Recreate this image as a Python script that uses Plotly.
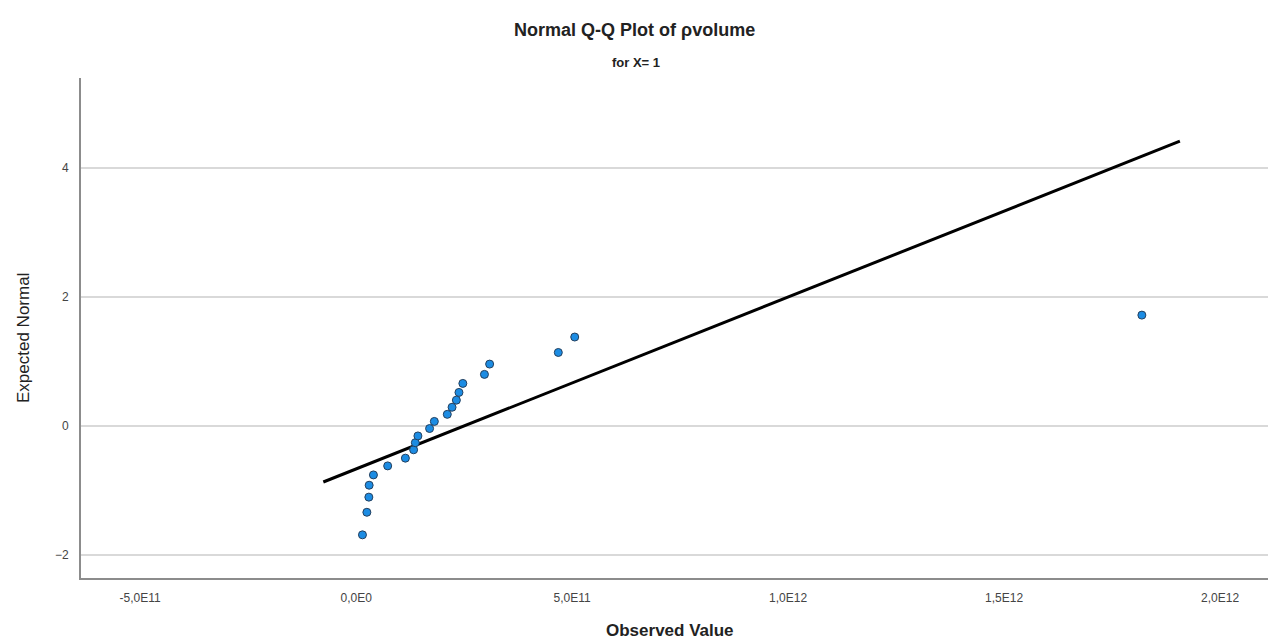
import plotly.graph_objects as go

observed = [0.0146, 0.0248, 0.0294, 0.0301, 0.040, 0.073, 0.114, 0.133, 0.137, 0.143,
            0.170, 0.181, 0.211, 0.222, 0.232, 0.238, 0.247, 0.297, 0.309, 0.468,
            0.506, 1.819]
expected = [-1.69, -1.34, -1.105, -0.92, -0.76, -0.62, -0.50, -0.37, -0.26, -0.155,
            -0.04, 0.07, 0.18, 0.29, 0.40, 0.52, 0.66, 0.80, 0.96, 1.14,
            1.38, 1.72]
# reference line endpoints
line_x = [-0.076, 1.907]
line_y = [-0.87, 4.42]

x_tickvals = [-0.5, 0.0, 0.5, 1.0, 1.5, 2.0]
x_ticktext = ["-5,0E11", "0,0E0", "5,0E11", "1,0E12", "1,5E12", "2,0E12"]
y_tickvals = [-2, 0, 2, 4]

sc = 1e12
FONT = "Liberation Sans, Arial, sans-serif"

W, H = 1268, 644
ML, MR, MT, MB = 81, 0, 78, 66
plot_w = W - ML - MR
plot_h = H - MT - MB


def px_to_paper(px, py):
    return (px - ML) / plot_w, (H - MB - py) / plot_h


fig = go.Figure()
fig.add_trace(go.Scatter(
    x=[v * sc for v in line_x], y=line_y, mode="lines",
    line=dict(color="black", width=3), hoverinfo="skip", showlegend=False))
fig.add_trace(go.Scatter(
    x=[v * sc for v in observed], y=expected, mode="markers",
    marker=dict(size=8, color="#1c8ce3", line=dict(color="#24405e", width=1)),
    showlegend=False))

tx, ty = px_to_paper(634, 30)
sx, sy = px_to_paper(636, 63)
ax_x, ax_y = px_to_paper(670, 630)
ay_x, ay_y = px_to_paper(23, 338)

fig.update_layout(
    width=W, height=H,
    margin=dict(l=ML, r=MR, t=MT, b=MB),
    plot_bgcolor="white", paper_bgcolor="white",
    font=dict(family=FONT, color="#333333"),
    annotations=[
        dict(text="<b>Normal Q-Q Plot of ρvolume</b>", x=tx, y=ty, xref="paper", yref="paper",
             showarrow=False, xanchor="center", yanchor="middle",
             font=dict(size=18, color="#222222", family=FONT)),
        dict(text="<b>for X= 1</b>", x=sx, y=sy, xref="paper", yref="paper",
             showarrow=False, xanchor="center", yanchor="middle",
             font=dict(size=13, color="#222222", family=FONT)),
        dict(text="<b>Observed Value</b>", x=ax_x, y=ax_y, xref="paper", yref="paper",
             showarrow=False, xanchor="center", yanchor="middle",
             font=dict(size=17, color="#222222", family=FONT)),
        dict(text="Expected Normal", x=ay_x, y=ay_y, xref="paper", yref="paper",
             showarrow=False, xanchor="center", yanchor="middle", textangle=-90,
             font=dict(size=17, color="#222222", family=FONT)),
    ],
)

fig.update_xaxes(
    range=[-0.637 * sc, 2.111 * sc],
    tickvals=[v * sc for v in x_tickvals], ticktext=x_ticktext,
    showgrid=False, zeroline=False,
    showline=True, linecolor="#8c8c8c", linewidth=2,
    tickfont=dict(size=12, color="#444444", family=FONT),
    ticks="", ticklabelstandoff=8,
)
fig.update_yaxes(
    range=[-2.36, 5.40],
    tickvals=y_tickvals,
    showgrid=True, gridcolor="#d9d9d9", gridwidth=2,
    zeroline=False,
    showline=True, linecolor="#8c8c8c", linewidth=2,
    tickfont=dict(size=12, color="#444444", family=FONT),
    ticks="", ticklabelstandoff=8,
)

fig.write_html("out.html")
